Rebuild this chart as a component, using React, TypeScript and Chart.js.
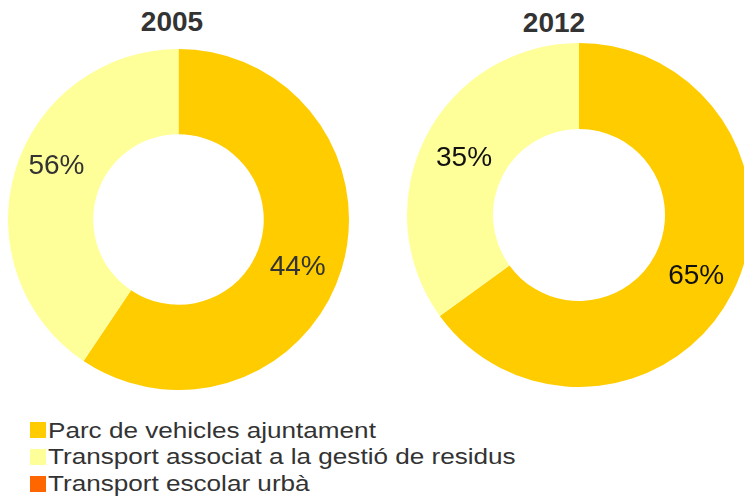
import React, { useEffect, useRef } from "react";
import { Chart, registerables } from "chart.js";

Chart.register(...registerables);

const categories = [
  "Parc de vehicles ajuntament",
  "Transport associat a la gestió de residus",
  "Transport escolar urbà",
];
const colors = ["#FFCC00", "#FFFF99", "#FF6600"];
const years = ["2005", "2012"];
// slice sizes as drawn in the picture
const values2005 = [59.4, 40.6, 0];
const values2012 = [65, 35, 0];
// data label texts as printed in the picture
const labels2005 = ["44%", "56%", ""];
const labels2012 = ["65%", "35%", ""];
// where along each slice the label sits (0 = start, 1 = end)
const labelPos2005 = [0.52, 0.55, 0.5];
const labelPos2012 = [0.5, 0.5, 0.5];
// where across the ring the label sits (0 = inner edge, 1 = outer edge)
const labelRad2005 = [0.5, 0.57, 0.5];
const labelRad2012 = [0.53, 0.5, 0.5];

const FONT = "'Liberation Sans', Arial, Helvetica, sans-serif";

function makeLabelPlugin(texts: string[], fractions: number[], radials: number[], color: string) {
  return {
    id: "pctLabels",
    afterDatasetsDraw(chart: any) {
      const meta = chart.getDatasetMeta(0);
      const ctx = chart.ctx;
      ctx.save();
      ctx.font = `28px ${FONT}`;
      ctx.fillStyle = color;
      ctx.textAlign = "center";
      ctx.textBaseline = "middle";
      meta.data.forEach((arc: any, i: number) => {
        const t = texts[i];
        if (!t) return;
        const p = arc.getProps(["x", "y", "startAngle", "endAngle", "innerRadius", "outerRadius"], true);
        const a = p.startAngle + (p.endAngle - p.startAngle) * fractions[i];
        const r = p.innerRadius + (p.outerRadius - p.innerRadius) * radials[i];
        ctx.fillText(t, p.x + Math.cos(a) * r, p.y + Math.sin(a) * r + 2);
      });
      ctx.restore();
    },
  };
}

function Donut(props: {
  values: number[];
  texts: string[];
  fractions: number[];
  radials: number[];
  textColor: string;
  size: number;
  left: number;
  top: number;
}) {
  const ref = useRef<HTMLCanvasElement | null>(null);
  useEffect(() => {
    if (!ref.current) return;
    const chart = new Chart(ref.current, {
      type: "doughnut",
      data: {
        labels: categories,
        datasets: [
          {
            data: props.values,
            backgroundColor: colors,
            borderWidth: 0,
          },
        ],
      },
      options: {
        animation: false,
        responsive: false,
        cutout: "50%",
        layout: { padding: 0 },
        plugins: {
          legend: { display: false },
          title: { display: false },
          tooltip: { enabled: false },
        },
      },
      plugins: [makeLabelPlugin(props.texts, props.fractions, props.radials, props.textColor)],
    });
    return () => chart.destroy();
  }, []);
  return (
    <canvas
      ref={ref}
      width={props.size}
      height={props.size}
      style={{ position: "absolute", left: props.left, top: props.top, width: props.size, height: props.size }}
    />
  );
}

export default function App() {
  useEffect(() => {
    document.body.style.margin = "0";
    document.body.style.overflow = "hidden";
  }, []);
  const titleStyle = (left: number, top: number): React.CSSProperties => ({
    position: "absolute",
    left,
    top,
    width: 120,
    textAlign: "center",
    font: `bold 28px ${FONT}`,
    lineHeight: "28px",
    color: "#333333",
  });
  return (
    <div style={{ position: "relative", width: 744, height: 497, overflow: "hidden", background: "#fff" }}>
      <Donut values={values2005} texts={labels2005} fractions={labelPos2005} radials={labelRad2005} textColor="#333333" size={341} left={8} top={49} />
      <Donut values={values2012} texts={labels2012} fractions={labelPos2012} radials={labelRad2012} textColor="#111111" size={344} left={407} top={43} />
      <div style={titleStyle(112, 8)}>{years[0]}</div>
      <div style={titleStyle(494, 9)}>{years[1]}</div>
      {categories.map((c, i) => (
        <React.Fragment key={c}>
          <div
            style={{
              position: "absolute",
              left: 30,
              top: 422.3 + i * 26.9,
              width: 15.5,
              height: 15.5,
              background: colors[i],
            }}
          />
          <div
            style={{
              position: "absolute",
              left: 48,
              top: 416.5 + i * 26.9,
              font: `22.5px ${FONT}`,
              lineHeight: "28px",
              color: "#333333",
              whiteSpace: "nowrap",
              transform: "scaleX(1.16)",
              transformOrigin: "0 0",
            }}
          >
            {c}
          </div>
        </React.Fragment>
      ))}
    </div>
  );
}
